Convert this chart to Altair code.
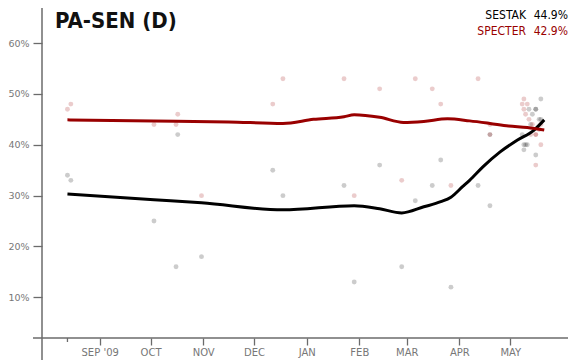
import altair as alt
import pandas as pd

# ---------------- data ----------------
chart_title = "PA-SEN (D)"
candidates = ["SESTAK", "SPECTER"]
latest_values = ["44.9%", "42.9%"]
cand_colors = ["#000000", "#990000"]

poll_dates = [
    "2009-08-13", "2009-08-15", "2009-10-03", "2009-10-16", "2009-10-17",
    "2009-10-31", "2009-12-12", "2009-12-18", "2010-01-23", "2010-01-29",
    "2010-02-13", "2010-02-26", "2010-03-06", "2010-03-16", "2010-03-21",
    "2010-03-27", "2010-04-12", "2010-04-19", "2010-04-19",
    "2010-05-08", "2010-05-09", "2010-05-09", "2010-05-10", "2010-05-11",
    "2010-05-12", "2010-05-13", "2010-05-14", "2010-05-16", "2010-05-16",
    "2010-05-16", "2010-05-18", "2010-05-19", "2010-05-19",
]
sestak_polls = [
    34, 33, 25, 16, 42,
    18, 35, 30, 32, 13,
    36, 16, 29, 32, 37,
    12, 32, 28, 42,
    42, 39, 40, 40, 40,
    47, 44, 46, 47, 47,
    38, 45, 49, 45,
]
specter_polls = [
    47, 48, 44, 44, 46,
    30, 48, 53, 53, 30,
    51, 33, 53, 51, 48,
    32, 53, 44, 42,
    48, 49, 47, 46, 48,
    45, 42, 44, 42, 42,
    36, 43, 44, 40,
]

sestak_trend_dates = [
    "2009-08-13", "2009-10-03", "2009-10-31", "2009-12-18", "2010-01-29",
    "2010-02-13", "2010-02-26", "2010-03-11", "2010-03-21", "2010-03-27",
    "2010-04-03", "2010-04-07", "2010-04-15", "2010-04-25", "2010-05-05",
    "2010-05-15", "2010-05-21",
]
sestak_trend = [
    30.3, 29.2, 28.6, 27.2, 28.0,
    27.4, 26.6, 27.8, 28.8, 29.7,
    31.8, 33.0, 35.7, 38.6, 40.9,
    42.9, 44.9,
]
specter_trend_dates = [
    "2009-08-13", "2009-10-03", "2009-11-16", "2009-12-18", "2010-01-05",
    "2010-01-23", "2010-01-29", "2010-02-13", "2010-02-27", "2010-03-11",
    "2010-03-25", "2010-04-07", "2010-04-19", "2010-04-30", "2010-05-11",
    "2010-05-21",
]
specter_trend = [
    44.9, 44.7, 44.5, 44.2, 45.0,
    45.5, 45.9, 45.4, 44.4, 44.6,
    45.1, 44.7, 44.2, 43.7, 43.4,
    42.9,
]

month_ticks = [
    "2009-09-01", "2009-10-01", "2009-11-01", "2009-12-01", "2010-01-01",
    "2010-02-01", "2010-03-01", "2010-04-01", "2010-05-01",
]
y_ticks = [10, 20, 30, 40, 50, 60]
x_start, x_end = "2009-07-29", "2010-06-04"
y_min, y_max = 2, 66.9

# ---------------- frames ----------------
n = len(poll_dates)
polls = pd.DataFrame({
    "date": poll_dates * 2,
    "value": sestak_polls + specter_polls,
    "cand": [candidates[0]] * n + [candidates[1]] * n,
})
trend = pd.DataFrame({
    "date": sestak_trend_dates + specter_trend_dates,
    "value": sestak_trend + specter_trend,
    "cand": [candidates[0]] * len(sestak_trend) + [candidates[1]] * len(specter_trend),
})


def dt(s):
    y, m, d = (int(v) for v in s.split("-"))
    return alt.DateTime(year=y, month=m, date=d, utc=True)


W, H = 526, 330
AXIS_COLOR = "#6b6b6b"
LABEL_COLOR = "#777777"
NARROW = ("Liberation Sans Narrow, Noto Sans ExtraCondensed, Noto Sans Condensed, "
          "DejaVu Sans Condensed, Roboto Condensed, Roboto, sans-serif")

x_scale = alt.Scale(type="utc", domain=[dt(x_start), dt(x_end)], nice=False)
y_scale = alt.Scale(domain=[y_min, y_max], nice=False, zero=False)
color_scale = alt.Scale(domain=candidates, range=cand_colors)

x_enc = alt.X(
    "date:T", scale=x_scale,
    axis=alt.Axis(
        values=[dt(s) for s in month_ticks], domain=False, grid=False,
        tickSize=7, tickColor=AXIS_COLOR, tickWidth=1.3,
        labelPadding=2, labelFont="DejaVu Sans", labelFontSize=10,
        labelColor=LABEL_COLOR, title=None,
        labelExpr="upper(utcFormat(datum.value, '%b')) + (utcmonth(datum.value) == 8 ? \" '09\" : '')",
    ),
)
y_enc = alt.Y(
    "value:Q", scale=y_scale,
    axis=alt.Axis(
        values=y_ticks, domain=False, grid=False, tickSize=9,
        tickColor=AXIS_COLOR, tickWidth=1.3, labelPadding=4,
        labelFont="DejaVu Sans", labelFontSize=9.5, labelColor=LABEL_COLOR,
        title=None, labelExpr="datum.value + '%'",
    ),
)

dots = alt.Chart(polls).mark_circle(size=24, opacity=0.2).encode(
    x=x_enc, y=y_enc,
    color=alt.Color("cand:N", scale=color_scale, legend=None),
)
lines = alt.Chart(trend).mark_line(strokeWidth=3, interpolate="monotone").encode(
    x="date:T", y="value:Q",
    color=alt.Color("cand:N", scale=color_scale, legend=None),
)

first_tick = alt.Chart(pd.DataFrame({"date": [poll_dates[0]]})).mark_rule(
    color=AXIS_COLOR, strokeWidth=1.3
).encode(x="date:T", y=alt.value(H), y2=alt.value(H + 4))

y_line = alt.Chart(pd.DataFrame({"a": [0]})).mark_rule(
    color=AXIS_COLOR, strokeWidth=1.5
).encode(x=alt.value(0), y=alt.value(0), y2=alt.value(H + 30))
x_line = alt.Chart(pd.DataFrame({"a": [0]})).mark_rule(
    color=AXIS_COLOR, strokeWidth=1.5
).encode(x=alt.value(-9), x2=alt.value(W), y=alt.value(H))

title = alt.Chart(pd.DataFrame({"t": [chart_title]})).mark_text(
    align="left", baseline="alphabetic", font=NARROW, fontSize=22,
    fontWeight="bold", color="#111111",
).encode(x=alt.value(13), y=alt.value(20), text="t:N")

legend_layers = []
for i, (name, val, col) in enumerate(zip(candidates, latest_values, cand_colors)):
    d = pd.DataFrame({"name": [name], "val": [val]})
    legend_layers.append(
        alt.Chart(d).mark_text(align="right", baseline="alphabetic", font=NARROW,
                               fontSize=12, color=col)
        .encode(x=alt.value(484), y=alt.value(11 + 16 * i), text="name:N")
    )
    legend_layers.append(
        alt.Chart(d).mark_text(align="right", baseline="alphabetic", font=NARROW,
                               fontSize=12, color=col)
        .encode(x=alt.value(W), y=alt.value(11 + 16 * i), text="val:N")
    )

chart = alt.layer(
    dots, lines, y_line, x_line, first_tick, title, *legend_layers
).properties(
    width=W, height=H,
    autosize=alt.AutoSizeParams(type="none"),
    padding={"left": 34, "top": 0, "right": 0, "bottom": 22},
).configure_view(stroke=None)

chart.save("out.html", embed_options={"renderer": "svg", "actions": False})
